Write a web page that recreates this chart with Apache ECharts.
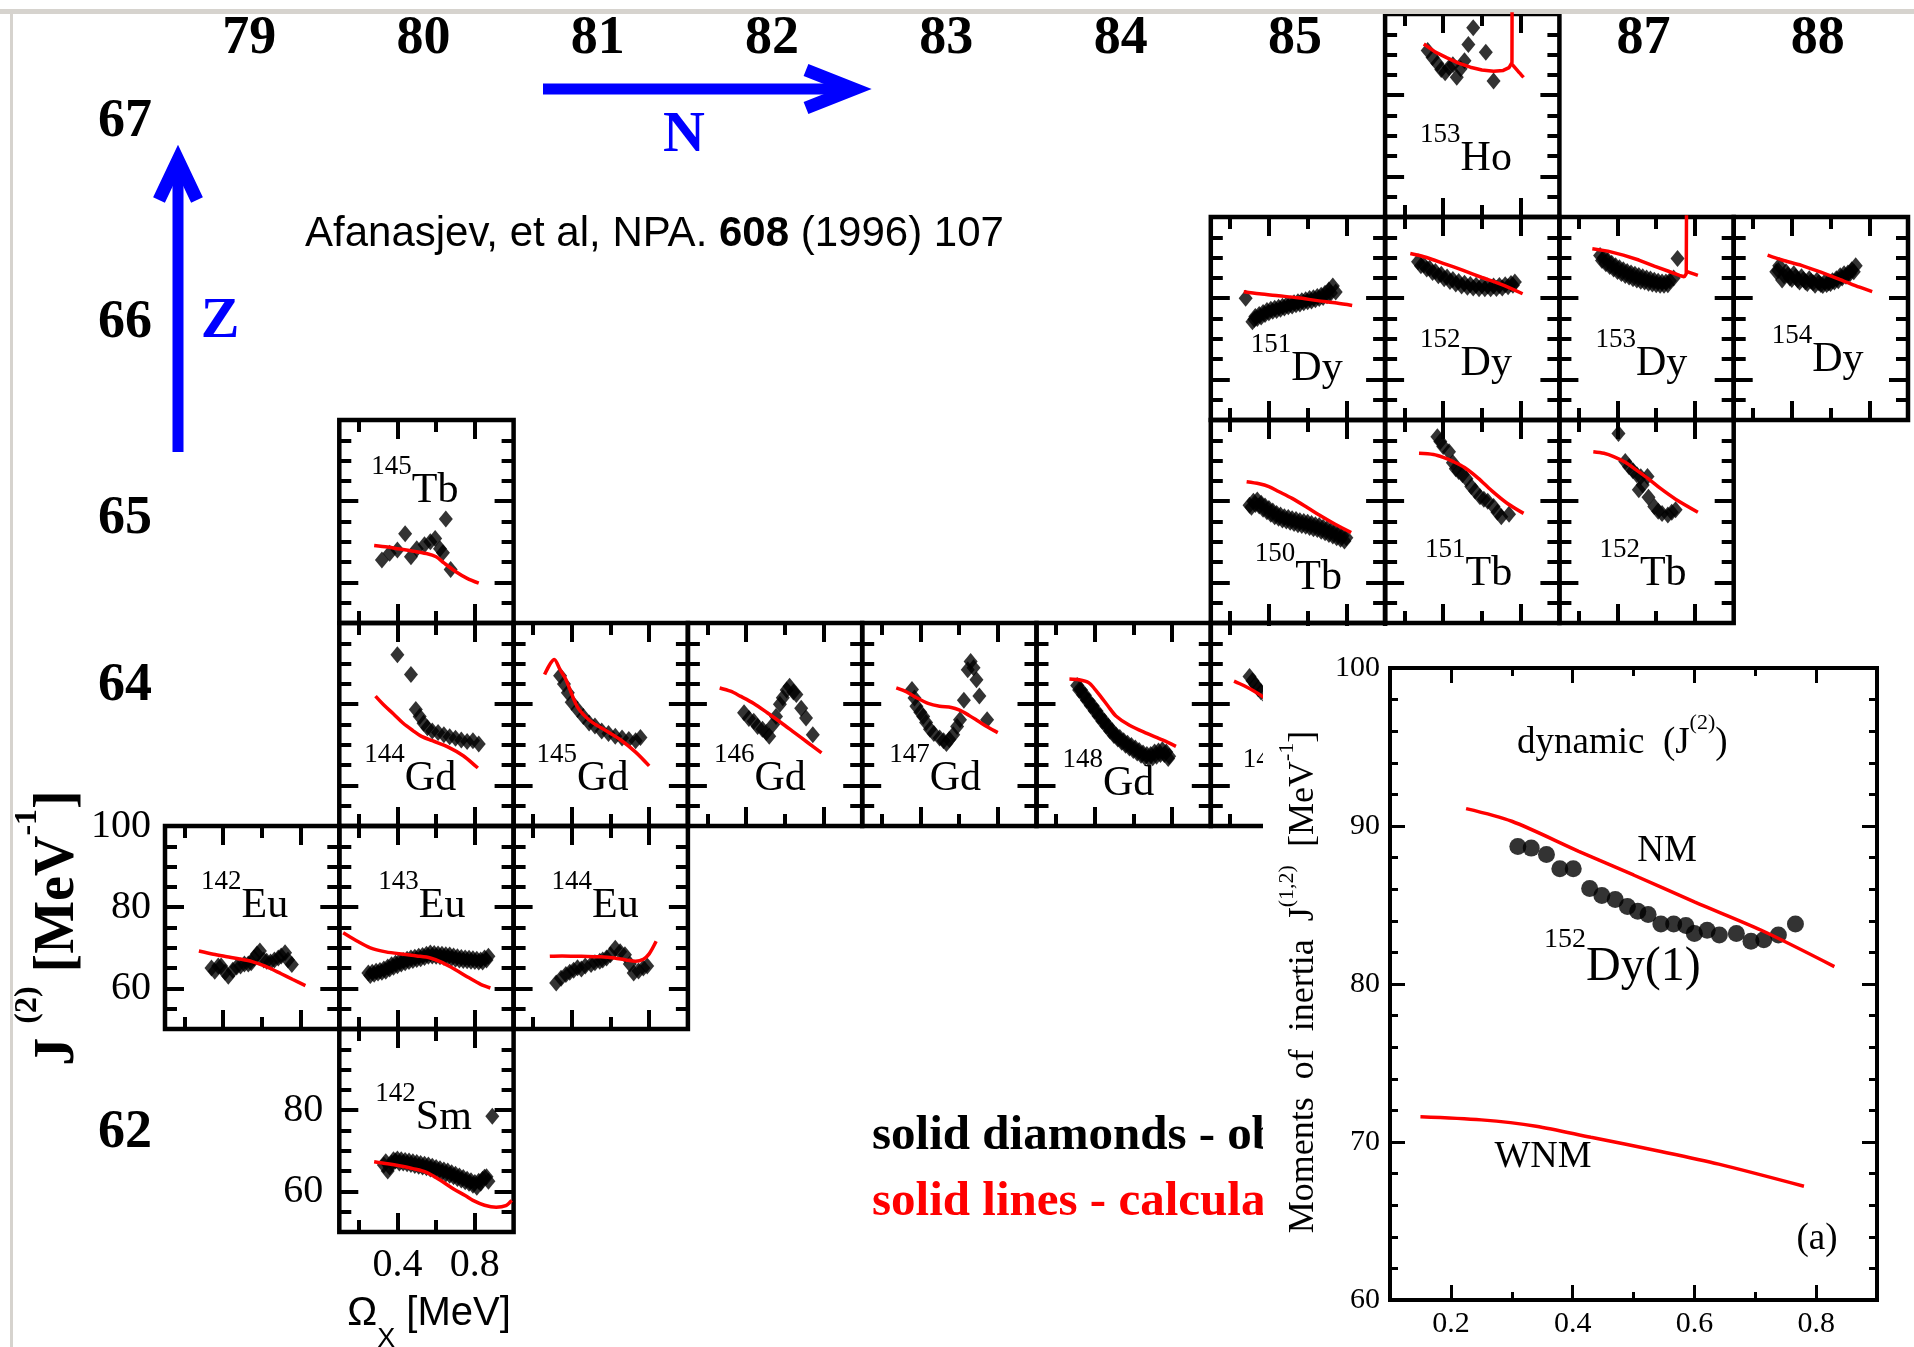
<!DOCTYPE html>
<html><head><meta charset="utf-8">
<script src="https://cdn.jsdelivr.net/npm/echarts@6/dist/echarts.min.js"></script>
<style>html,body{margin:0;padding:0;background:#fff}#c{width:1914px;height:1347px}</style>
</head><body><div id="c"></div>
<script>
// ---------- nuclei in the chart ----------
const isoMass = [153,151,152,153,154,145,150,151,152,144,145,146,147,148,149,142,143,144,142];
const isoElem = ['Ho','Dy','Dy','Dy','Dy','Tb','Tb','Tb','Tb','Gd','Gd','Gd','Gd','Gd','Gd','Eu','Eu','Eu','Sm'];
const isoZ    = [67,66,66,66,66,65,65,65,65,64,64,64,64,64,64,63,63,63,62];
const isoN    = [86,85,86,87,88,80,85,86,87,80,81,82,83,84,85,79,80,81,80];

// ---------- axis tick values / labels ----------
const nLabels = [79,80,81,82,83,84,85,87,88];
const zLabels = [67,66,65,64,62];
const xMajor = [0.4,0.8], xMinor = [0.2,0.6];
const yMajor = [60,80], yMinor = [55,65,70,75,85,90,95];
const euYLabels = [60,80,100], smYLabels = [60,80], smXLabels = [0.4,0.8];
const insetXMajor = [0.2,0.4,0.6,0.8], insetXMinor = [0.3,0.5,0.7];

// ---------- data: experiment (diamonds) and calculation (lines) ----------
const ho153Exp = [[0.32,91],[0.345,89.3],[0.37,87.8],[0.39,86.3],[0.41,85.5],[0.43,86.8],[0.45,87.5],[0.47,84.4],[0.49,86.5],[0.51,88.5],[0.53,92.5],[0.555,96.6],[0.62,90.6],[0.66,83.5]];
const ho153Calc = [[0.30,92.6],[0.36,90.6],[0.42,89.2],[0.48,87.9],[0.54,86.9],[0.60,86.2],[0.66,85.9],[0.71,86.1],[0.74,86.8],[0.755,88],[0.756,110]];
const ho153Calc2 = [[0.756,87.6],[0.785,86],[0.815,84.4]];

const dy151Exp = [[0.28,80],[0.315,74.2],[0.33,75.5],[0.35,76],[0.37,76.5],[0.39,77],[0.41,77.3],[0.43,77.5],[0.45,77.8],[0.47,78],[0.49,78.3],[0.51,78.6],[0.53,78.9],[0.55,79.1],[0.57,79.4],[0.59,79.6],[0.61,79.9],[0.63,80.1],[0.65,80.4],[0.67,80.7],[0.69,81.2],[0.71,82],[0.73,83],[0.745,81.5],
  [0.325,74.8],[0.34,75],[0.36,75.4],[0.38,76],[0.40,76.4],[0.42,76.8],[0.44,77],[0.46,77.3],[0.48,77.6],[0.50,77.9],[0.52,78.1],[0.54,78.4],[0.56,78.6],[0.58,78.9],[0.60,79.1],[0.62,79.3],[0.64,79.6],[0.66,79.9],[0.68,80.2],[0.70,80.6],[0.72,81.3]];
const dy151Calc = [[0.27,81.6],[0.35,81.1],[0.45,80.6],[0.55,80.1],[0.65,79.4],[0.75,78.8],[0.83,78.2]];

const dy152Exp = [[0.27,89],[0.30,88.2],[0.33,87.4],[0.36,86.6],[0.39,85.9],[0.42,85.2],[0.45,84.6],[0.48,84.1],[0.51,83.7],[0.54,83.4],[0.57,83.2],[0.60,83.1],[0.63,83.0],[0.66,83.0],[0.69,83.1],[0.72,83.3],[0.75,83.6],[0.77,84],
  [0.285,88],[0.315,87.2],[0.345,86.3],[0.375,85.5],[0.405,84.8],[0.435,84.1],[0.465,83.5],[0.495,83],[0.525,82.7],[0.555,82.5],[0.585,82.3],[0.615,82.3],[0.645,82.3],[0.675,82.4],[0.705,82.5],[0.735,82.8],[0.76,83.2]];
const dy152Calc = [[0.23,91],[0.30,90.2],[0.40,88.6],[0.50,86.9],[0.60,85.1],[0.70,83.4],[0.81,81.1]];

const dy153Exp = [[0.31,90.5],[0.33,90],[0.35,89.3],[0.37,88.6],[0.39,88],[0.41,87.5],[0.43,87],[0.45,86.6],[0.47,86.2],[0.49,85.9],[0.51,85.6],[0.53,85.3],[0.55,85],[0.57,84.7],[0.59,84.4],[0.61,84.2],[0.63,84],[0.65,84],[0.67,84.3],[0.69,85],[0.71,89.8],
  [0.32,89.3],[0.34,88.5],[0.36,87.8],[0.38,87.2],[0.40,86.6],[0.42,86.1],[0.44,85.6],[0.46,85.2],[0.48,84.8],[0.50,84.5],[0.52,84.2],[0.54,84],[0.56,83.7],[0.58,83.5],[0.60,83.3],[0.62,83.2],[0.64,83.2],[0.66,83.3]];
const dy153Calc = [[0.27,92.2],[0.35,91.6],[0.43,90.6],[0.51,89.4],[0.59,87.9],[0.66,86.7],[0.72,85.6],[0.745,85.3],[0.755,86],[0.757,110]];
const dy153Calc2 = [[0.757,86.6],[0.785,86.1],[0.815,85.6]];

const dy154Exp = [[0.32,86.5],[0.335,88],[0.35,84.5],[0.37,86.5],[0.39,85],[0.41,86],[0.43,84.5],[0.45,85.3],[0.47,84],[0.49,84.8],[0.51,83.8],[0.53,84.4],[0.55,83.4],[0.57,84],[0.59,83.8],[0.61,84.3],[0.63,84.8],[0.65,85.5],[0.67,86],[0.69,86.2],[0.71,87],[0.73,88],
  [0.33,86.8],[0.36,85.5],[0.38,85.8],[0.40,84.6],[0.42,85.3],[0.44,84],[0.46,84.6],[0.48,83.6],[0.50,84.2],[0.52,83.2],[0.54,83.8],[0.56,83.1],[0.58,83.4],[0.60,83.6],[0.62,84],[0.64,84.3],[0.66,85],[0.68,85.4],[0.70,86],[0.72,86.5]];
const dy154Calc = [[0.275,90.6],[0.35,89.4],[0.45,88.1],[0.55,86.4],[0.65,84.6],[0.75,82.7],[0.815,81.6]];

const tb145Exp = [[0.32,65.5],[0.36,67.2],[0.40,68],[0.44,72],[0.47,66.3],[0.50,68.3],[0.54,69.3],[0.57,70],[0.595,70.8],[0.62,68.3],[0.635,67.3],[0.65,75.6],[0.675,63.2]];
const tb145Calc = [[0.28,69.1],[0.35,68.7],[0.40,68.3],[0.47,67.8],[0.55,67.1],[0.60,66.3],[0.64,64.8],[0.70,62.7],[0.76,61],[0.82,59.8]];

const tb150Exp = [[0.30,79],[0.32,80],[0.34,80.3],[0.36,79.5],[0.38,78.8],[0.40,78.2],[0.42,77.6],[0.44,77],[0.46,76.6],[0.48,76.2],[0.50,76],[0.52,75.7],[0.54,75.5],[0.56,75.2],[0.58,75],[0.60,74.8],[0.62,74.5],[0.64,74.2],[0.66,74],[0.68,73.6],[0.70,73.2],[0.72,72.8],[0.74,72.4],[0.76,72],[0.78,71.5],[0.80,71],
  [0.31,78.5],[0.33,79.2],[0.35,78.8],[0.37,78],[0.39,77.4],[0.41,76.8],[0.43,76.2],[0.45,75.8],[0.47,75.4],[0.49,75.1],[0.51,74.8],[0.53,74.5],[0.55,74.2],[0.57,74],[0.59,73.8],[0.61,73.5],[0.63,73.2],[0.65,73],[0.67,72.6],[0.69,72.2],[0.71,71.8],[0.73,71.4],[0.75,71],[0.77,70.6],[0.79,70.2]];
const tb150Calc = [[0.285,84.8],[0.35,84.3],[0.40,83.6],[0.45,82.4],[0.52,80.7],[0.60,78.4],[0.66,76.6],[0.74,74.4],[0.825,72.3]];

const tb151Exp = [[0.37,95.9],[0.385,94.7],[0.40,93.5],[0.43,92.2],[0.45,89.5],[0.465,88],[0.48,87.3],[0.50,86.5],[0.52,85.5],[0.545,83.6],[0.565,82.5],[0.59,81.1],[0.61,80.5],[0.63,80],[0.66,78.7],[0.68,77.3],[0.70,76.2],[0.74,76.8]];
const tb151Calc = [[0.275,91.8],[0.35,91.5],[0.40,90.8],[0.45,89.8],[0.51,88.3],[0.58,85.7],[0.65,82.6],[0.73,79.5],[0.815,77]];

const tb152Exp = [[0.405,96.7],[0.44,89.8],[0.46,88.5],[0.48,87.5],[0.50,86.5],[0.52,86],[0.555,86.1],[0.51,82.8],[0.53,84],[0.56,81],[0.59,78.7],[0.61,77.5],[0.63,77],[0.66,76.6],[0.68,77.3],[0.70,77.9]];
const tb152Calc = [[0.275,92.2],[0.33,91.8],[0.38,91],[0.44,89.6],[0.50,87.6],[0.56,85.5],[0.62,83.2],[0.70,80.5],[0.815,77.3]];

const gd144Exp = [[0.40,92.2],[0.47,87.3],[0.495,78.7],[0.515,77],[0.535,75.3],[0.555,74.2],[0.58,73.4],[0.61,73],[0.64,72.5],[0.67,72],[0.70,71.6],[0.73,71.2],[0.76,70.8],[0.79,71],[0.82,70.2]];
const gd144Calc = [[0.287,82],[0.33,79.8],[0.38,77.6],[0.43,75.3],[0.48,73.5],[0.52,72.2],[0.58,71],[0.66,69.5],[0.74,67.3],[0.815,64.3]];

const gd145Exp = [[0.34,87],[0.36,85],[0.38,82.8],[0.40,80.5],[0.43,78.7],[0.46,77],[0.49,75.4],[0.52,74.6],[0.555,73.4],[0.59,72.8],[0.625,72.1],[0.66,71.7],[0.695,71.3],[0.73,71],[0.755,71.8]];
const gd145Calc = [[0.26,87.3],[0.31,91],[0.34,88.5],[0.37,86.1],[0.40,82.5],[0.43,79.3],[0.47,77],[0.51,75.4],[0.58,73.4],[0.65,71.3],[0.73,68.2],[0.80,64.8]];

const gd146Exp = [[0.39,77.9],[0.415,76.5],[0.44,75.8],[0.46,74.5],[0.485,73.8],[0.505,73],[0.52,72.1],[0.54,75],[0.555,77],[0.575,80],[0.59,81.6],[0.61,83.5],[0.625,84.4],[0.645,83],[0.66,82.4],[0.685,79],[0.71,76.6],[0.745,72.5]];
const gd146Calc = [[0.264,84],[0.32,83.2],[0.37,82],[0.44,80.2],[0.51,77.9],[0.58,75.5],[0.65,73],[0.72,70.5],[0.79,68]];

const gd147Exp = [[0.357,83.6],[0.37,81.5],[0.38,79.5],[0.40,78],[0.415,77],[0.43,75.5],[0.45,73.8],[0.47,72.8],[0.50,71.7],[0.52,71],[0.535,70.3],[0.55,71.3],[0.57,72.5],[0.59,74.5],[0.605,76.2],[0.625,81],[0.645,88.5],[0.66,90.5],[0.675,89],[0.69,86],[0.705,82],[0.745,76.2]];
const gd147Calc = [[0.276,84],[0.33,83],[0.38,81.6],[0.44,80.2],[0.50,79.5],[0.56,79.2],[0.60,78.6],[0.65,77.3],[0.70,75.8],[0.75,74.3],[0.80,73]];

const gd148Exp = [[0.31,84.6],[0.33,83.5],[0.35,82.2],[0.37,80.8],[0.39,79.6],[0.41,78.3],[0.43,77],[0.45,75.8],[0.47,74.6],[0.49,73.5],[0.51,72.5],[0.53,71.8],[0.55,71],[0.57,70.4],[0.59,69.8],[0.61,69.2],[0.63,68.6],[0.65,68],[0.67,67.6],[0.69,67.6],[0.71,68.2],[0.73,68.5],[0.75,68.8],[0.77,68.2],[0.785,67.2],
  [0.32,83.5],[0.34,82.3],[0.36,81],[0.38,79.7],[0.40,78.4],[0.42,77.1],[0.44,75.8],[0.46,74.6],[0.48,73.4],[0.50,72.3],[0.52,71.4],[0.54,70.6],[0.56,69.9],[0.58,69.2],[0.60,68.6],[0.62,68],[0.64,67.4],[0.66,66.9],[0.68,66.6],[0.70,66.8],[0.72,67.2],[0.74,67.6],[0.76,67.6],[0.78,66.6]];
const gd148Calc = [[0.27,86.2],[0.32,86],[0.37,85.3],[0.40,83.8],[0.43,82],[0.47,79.5],[0.51,77.1],[0.58,74.8],[0.67,72.8],[0.75,71.2],[0.82,69.6]];

const gd149Exp = [[0.30,86.8],[0.315,85.8],[0.33,84.8],[0.345,83.8],[0.36,83],[0.40,81],[0.45,79]];
const gd149Calc = [[0.22,85.7],[0.27,84.6],[0.32,83.3],[0.37,81.8],[0.45,79],[0.60,75],[0.80,70]];

const eu142Exp = [[0.34,65],[0.357,64.2],[0.375,65.5],[0.39,65.5],[0.41,64],[0.427,63],[0.45,64.5],[0.47,65.3],[0.49,65.5],[0.51,66],[0.53,66],[0.545,66.3],[0.56,67.5],[0.575,68.5],[0.59,69.2],[0.61,67],[0.625,66.7],[0.645,66.5],[0.665,67],[0.685,67.5],[0.70,68],[0.72,68.8],[0.735,67],[0.755,65.9]];
const eu142Calc = [[0.275,69.2],[0.35,68.4],[0.42,67.8],[0.48,67.3],[0.55,66.6],[0.62,65.4],[0.70,63.6],[0.76,62.2],[0.825,60.7]];

const eu143Exp = [[0.25,63.8],[0.27,64],[0.29,64.2],[0.31,64.4],[0.33,64.8],[0.35,65.3],[0.37,65.8],[0.39,66.2],[0.41,66.6],[0.43,66.9],[0.45,67.2],[0.47,67.5],[0.49,67.7],[0.51,67.9],[0.53,68.1],[0.55,68.4],[0.57,68.7],[0.59,68.6],[0.61,68.5],[0.63,68.4],[0.65,68.3],[0.67,68.2],[0.69,68],[0.71,67.8],[0.73,67.6],[0.75,67.5],[0.77,67.4],[0.79,67.3],[0.81,67.2],[0.83,67],[0.85,67.5],[0.87,67.9],
  [0.26,63.2],[0.28,63.5],[0.30,63.8],[0.32,64],[0.34,64.2],[0.36,64.8],[0.38,65.2],[0.40,65.6],[0.42,66],[0.44,66.3],[0.46,66.6],[0.48,66.9],[0.50,67.1],[0.52,67.3],[0.54,67.6],[0.56,67.9],[0.58,68],[0.60,67.9],[0.62,67.8],[0.64,67.7],[0.66,67.6],[0.68,67.4],[0.70,67.2],[0.72,67],[0.74,66.9],[0.76,66.8],[0.78,66.7],[0.80,66.6],[0.82,66.5],[0.84,66.5],[0.86,67]];
const eu143Calc = [[0.12,73.7],[0.18,72],[0.26,70],[0.34,69],[0.43,68.4],[0.50,68],[0.57,67.5],[0.63,66.4],[0.70,64.6],[0.77,62.6],[0.83,61],[0.88,60.1]];

const eu144Exp = [[0.32,61.3],[0.345,62.5],[0.37,63.4],[0.39,64],[0.41,64.5],[0.43,65.1],[0.45,64.8],[0.47,65.5],[0.50,65.9],[0.52,66.3],[0.545,66.7],[0.56,67],[0.58,67.5],[0.60,68.3],[0.625,69.9],[0.65,69],[0.675,68.3],[0.70,66],[0.72,63.8],[0.745,64.3],[0.77,65],[0.79,65.5]];
const eu144Calc = [[0.287,67.9],[0.35,68],[0.45,67.9],[0.55,67.8],[0.62,67.5],[0.68,67],[0.73,66.7],[0.77,67.2],[0.80,68.5],[0.836,71.6]];

const sm142Exp = [[0.33,66.5],[0.35,65],[0.37,67],[0.39,67.5],[0.41,67],[0.43,67],[0.45,66.8],[0.47,66.6],[0.49,66.4],[0.51,66.2],[0.53,66],[0.55,65.8],[0.57,65.5],[0.59,65.2],[0.61,64.9],[0.63,64.6],[0.65,64.3],[0.67,64],[0.69,63.6],[0.71,63.2],[0.73,62.8],[0.75,62.4],[0.77,62],[0.79,61.5],[0.81,61],[0.83,62],[0.85,63.5],[0.87,62.5],[0.89,78.5],
  [0.34,67.3],[0.36,66],[0.38,67.8],[0.40,68],[0.42,67.8],[0.44,67.6],[0.46,67.5],[0.48,67.3],[0.50,67.1],[0.52,66.9],[0.54,66.7],[0.56,66.5],[0.58,66.2],[0.60,65.9],[0.62,65.6],[0.64,65.3],[0.66,65],[0.68,64.6],[0.70,64.2],[0.72,63.8],[0.74,63.4],[0.76,63],[0.78,62.6],[0.80,62.2],[0.82,62.5],[0.84,63],[0.86,63.6]];
const sm142Calc = [[0.28,67.3],[0.35,66.8],[0.41,66.3],[0.48,65.6],[0.55,64.7],[0.62,62.8],[0.69,60.6],[0.75,59],[0.79,57.8],[0.85,56.6],[0.91,56.1],[0.96,56.5],[0.99,57.8]];

const expData = [ho153Exp,dy151Exp,dy152Exp,dy153Exp,dy154Exp,tb145Exp,tb150Exp,tb151Exp,tb152Exp,gd144Exp,gd145Exp,gd146Exp,gd147Exp,gd148Exp,gd149Exp,eu142Exp,eu143Exp,eu144Exp,sm142Exp];
const calcData = [[ho153Calc,ho153Calc2],[dy151Calc],[dy152Calc],[dy153Calc,dy153Calc2],[dy154Calc],[tb145Calc],[tb150Calc],[tb151Calc],[tb152Calc],[gd144Calc],[gd145Calc],[gd146Calc],[gd147Calc],[gd148Calc],[gd149Calc],[eu142Calc],[eu143Calc],[eu144Calc],[sm142Calc]];

// inset: 152Dy moments of inertia
const dy152Moi = [[0.31,88.7],[0.332,88.6],[0.357,88.2],[0.379,87.3],[0.401,87.3],[0.428,86.05],[0.448,85.6],[0.47,85.35],[0.49,84.9],[0.507,84.6],[0.524,84.4],[0.545,83.8],[0.566,83.8],[0.586,83.7],[0.60,83.2],[0.621,83.4],[0.641,83.1],[0.669,83.2],[0.693,82.7],[0.714,82.8],[0.738,83.1],[0.766,83.8]];
const nmLine = [[0.225,91.1],[0.30,90.3],[0.41,88.4],[0.50,86.9],[0.60,85.2],[0.71,83.4],[0.83,81.1]];
const wnmLine = [[0.15,71.6],[0.25,71.4],[0.34,71.0],[0.43,70.3],[0.545,69.4],[0.64,68.6],[0.78,67.2]];

// ---------- layout ----------
const colLeft0 = 165, colW = 174.3, rowTop0 = 14, rowH = 203;
const labelDx   = [35,40,35,36,38,32,44,40,40,25,23,26,27,26,32,36,39,38,36];
const labelBase = [157,164,159,159,155,83,170,166,166,168,168,168,168,173,173,92,92,92,101];
const rowLabelY = [122,323,519,686,1133];
const cellLeft = N => colLeft0 + (N - 79) * colW;
const cellTop = Z => rowTop0 + (67 - Z) * rowH;

const SERIF = 'Liberation Serif', SANS = 'Liberation Sans';
const grids = [], xAxes = [], yAxes = [], series = [], elements = [];

function tickAxis(g, pos, vals, len, range, label, z) {
  return {
    type: 'value', gridIndex: g, position: pos, min: range[0], max: range[1], z: z || 0,
    axisLine: { show: false }, splitLine: { show: false },
    axisTick: { show: true, inside: true, length: len, lineStyle: { color: '#000', width: 4 }, customValues: vals },
    axisLabel: label ? Object.assign({ show: true, fontFamily: SERIF, color: '#000' }, label) : { show: false }
  };
}

for (let i = 0; i < isoMass.length; i++) {
  const L = cellLeft(isoN[i]), T = cellTop(isoZ[i]);
  grids.push({ left: L, top: T, width: colW, height: rowH, show: true, borderColor: '#000', borderWidth: 4.5, backgroundColor: 'rgba(0,0,0,0)' });
  const isSm = isoElem[i] === 'Sm';
  const isEu142 = isoElem[i] === 'Eu' && isoMass[i] === 142;
  const xr = [0.1, 1.0], yr = [50, 100];
  xAxes.push(tickAxis(i, 'bottom', xMajor, 19, xr, isSm ? { customValues: smXLabels, fontSize: 40, margin: 13, formatter: v => (+v).toFixed(1) } : null));
  xAxes.push(tickAxis(i, 'top', xMajor, 19, xr, null));
  xAxes.push(tickAxis(i, 'bottom', xMinor, 12, xr, null));
  xAxes.push(tickAxis(i, 'top', xMinor, 12, xr, null));
  let yl = null;
  if (isEu142) yl = { customValues: euYLabels, fontSize: 40, margin: 14, formatter: v => String(v) };
  if (isSm) yl = { customValues: smYLabels, fontSize: 40, margin: 16, formatter: v => String(v) };
  yAxes.push(tickAxis(i, 'left', yMajor, 19, yr, yl));
  yAxes.push(tickAxis(i, 'right', yMajor, 19, yr, null));
  yAxes.push(tickAxis(i, 'left', yMinor, 12, yr, null));
  yAxes.push(tickAxis(i, 'right', yMinor, 12, yr, null));
  const ax = 4 * i;
  series.push({ type: 'scatter', xAxisIndex: ax, yAxisIndex: ax, data: expData[i], symbol: 'diamond', symbolSize: [14, 17], itemStyle: { color: '#000' }, z: 3, silent: true });
  calcData[i].forEach(d => {
    const spike = d.some(p => p[1] > 100);
    series.push({ type: 'line', xAxisIndex: ax, yAxisIndex: ax, data: d, symbol: 'none', showSymbol: false, smooth: spike ? false : 0.3, lineStyle: { color: '#ff0000', width: 3.5 }, z: 4, silent: true, clip: true });
  });
  // isotope label
  elements.push({
    type: 'text', x: L + labelDx[i], y: T + labelBase[i] - 50, z: 5, silent: true,
    style: {
      text: '{m|' + isoMass[i] + '}{e|' + isoElem[i] + '}', align: 'left', verticalAlign: 'top', textAlign: 'left', textVerticalAlign: 'top',
      rich: {
        m: { fontFamily: SERIF, fontSize: 27, lineHeight: 26, verticalAlign: 'top', fill: '#000', color: '#000' },
        e: { fontFamily: SERIF, fontSize: 42, lineHeight: 59, verticalAlign: 'bottom', fill: '#000', color: '#000' }
      }
    }
  });
}

// ---------- inset ----------
const gI = isoMass.length;
grids.push({ left: 1390, top: 668, width: 487, height: 632, show: true, borderColor: '#000', borderWidth: 4, backgroundColor: '#fff', z: 60 });
const ixr = [0.1, 0.9];
function insetX(pos, vals, len, label) {
  const a = tickAxis(gI, pos, vals, len, ixr, label, 60);
  a.axisTick.lineStyle.width = 3;
  return a;
}
xAxes.push(insetX('bottom', insetXMajor, 15, { customValues: insetXMajor, fontSize: 30, margin: 9, formatter: v => (+v).toFixed(1) }));
xAxes.push(insetX('top', insetXMajor, 15, null));
xAxes.push(insetX('bottom', insetXMinor, 8, null));
xAxes.push(insetX('top', insetXMinor, 8, null));
['left', 'right'].forEach(pos => {
  yAxes.push({
    type: 'value', gridIndex: gI, position: pos, min: 60, max: 100, interval: 10, z: 60,
    axisLine: { show: false }, splitLine: { show: false },
    axisTick: { show: true, inside: true, length: 15, lineStyle: { color: '#000', width: 3 } },
    minorTick: { show: true, splitNumber: 5, length: 8, lineStyle: { color: '#000', width: 3 } },
    axisLabel: pos === 'left' ? { show: true, fontFamily: SERIF, fontSize: 30, color: '#000', margin: 10 } : { show: false }
  });
});
const iax = 4 * gI, iay = 4 * gI;
series.push({ type: 'scatter', xAxisIndex: iax, yAxisIndex: iay, data: dy152Moi, symbol: 'circle', symbolSize: 17, itemStyle: { color: '#000' }, z: 62, silent: true });
series.push({ type: 'line', xAxisIndex: iax, yAxisIndex: iay, data: nmLine, symbol: 'none', smooth: 0.3, lineStyle: { color: '#ff0000', width: 3.5 }, z: 63, silent: true });
series.push({ type: 'line', xAxisIndex: iax, yAxisIndex: iay, data: wnmLine, symbol: 'none', smooth: 0.3, lineStyle: { color: '#ff0000', width: 3.5 }, z: 63, silent: true });

// ---------- annotations ----------
const GRAY = '#d6d3ce', BLUE = '#0000ff';
elements.push({ type: 'rect', shape: { x: 0, y: 9, width: 1914, height: 5 }, style: { fill: GRAY }, z: 1, silent: true });
elements.push({ type: 'rect', shape: { x: 10, y: 9, width: 3, height: 1338 }, style: { fill: GRAY }, z: 1, silent: true });

function txt(x, y, text, font, fill, align, valign, z, extra) {
  return Object.assign({ type: 'text', x: x, y: y, z: z || 5, silent: true,
    style: { text: text, font: font, fill: fill || '#000', align: align || 'center', verticalAlign: valign || 'middle', textAlign: align || 'center', textVerticalAlign: valign || 'middle' } }, extra || {});
}
nLabels.forEach(n => elements.push(txt(cellLeft(n) + colW / 2 - 3, 39, String(n), 'bold 54px "' + SERIF + '"')));
zLabels.forEach((z, k) => elements.push(txt(125, rowLabelY[k], String(z), 'bold 54px "' + SERIF + '"')));

// N arrow
elements.push({ type: 'line', shape: { x1: 543, y1: 89, x2: 848, y2: 89 }, style: { stroke: BLUE, lineWidth: 11 }, z: 5, silent: true });
elements.push({ type: 'polyline', shape: { points: [[806, 70], [854, 89], [806, 108]] }, style: { stroke: BLUE, lineWidth: 13, fill: null, lineJoin: 'miter' }, z: 5, silent: true });
elements.push(txt(684, 136, 'N', 'bold 58px "' + SERIF + '"', BLUE));
// Z arrow
elements.push({ type: 'line', shape: { x1: 178, y1: 452, x2: 178, y2: 168 }, style: { stroke: BLUE, lineWidth: 11 }, z: 5, silent: true });
elements.push({ type: 'polyline', shape: { points: [[159, 200], [178, 160], [197, 200]] }, style: { stroke: BLUE, lineWidth: 13, fill: null, lineJoin: 'miter' }, z: 5, silent: true });
elements.push(txt(220, 322, 'Z', 'bold 58px "' + SERIF + '"', BLUE));

// citation
elements.push({ type: 'text', x: 305, y: 234, z: 5, silent: true, style: {
  text: '{n|Afanasjev, et al, NPA. }{b|608}{n| (1996) 107}', align: 'left', verticalAlign: 'middle', textAlign: 'left', textVerticalAlign: 'middle',
  rich: { n: { fontFamily: SANS, fontSize: 42, fill: '#000', color: '#000' }, b: { fontFamily: SANS, fontSize: 42, fontWeight: 'bold', fill: '#000', color: '#000' } } } });

// y-axis title J(2) [MeV-1]
elements.push({ type: 'text', x: 49, y: 928, rotation: Math.PI / 2, z: 5, silent: true, style: {
  text: '{a|J }{s|(2)}{a| [MeV}{s|-1}{a|]}', align: 'center', verticalAlign: 'middle', textAlign: 'center', textVerticalAlign: 'middle',
  rich: { a: { fontFamily: SERIF, fontSize: 56, fontWeight: 'bold', lineHeight: 75, verticalAlign: 'bottom', fill: '#000', color: '#000' },
          s: { fontFamily: SERIF, fontSize: 32, fontWeight: 'bold', lineHeight: 22, verticalAlign: 'top', fill: '#000', color: '#000' } } } });

// x-axis title
elements.push({ type: 'text', x: 429, y: 1294, z: 5, silent: true, style: {
  text: '{a|\u03A9}{s|X}{a| [MeV]}', align: 'center', verticalAlign: 'top', textAlign: 'center', textVerticalAlign: 'top',
  rich: { a: { fontFamily: SANS, fontSize: 40, lineHeight: 44, verticalAlign: 'top', fill: '#000', color: '#000' },
          s: { fontFamily: SANS, fontSize: 27, lineHeight: 59, verticalAlign: 'bottom', fill: '#000', color: '#000' } } } });

// legend text (partly hidden by the inset)
elements.push(txt(872, 1136, 'solid diamonds - observed', 'bold 49px "' + SERIF + '"', '#000', 'left'));
elements.push(txt(872, 1202, 'solid lines - calculated', 'bold 49px "' + SERIF + '"', '#ff0000', 'left'));

// white box behind inset
elements.push({ type: 'rect', shape: { x: 1263, y: 626, width: 651, height: 721 }, style: { fill: '#fff' }, z: 50, silent: true });

// inset texts
elements.push({ type: 'text', x: 1517, y: 712, z: 70, silent: true, style: {
  text: '{a|dynamic  (J}{s|(2)}{a|)}', align: 'left', verticalAlign: 'top', textAlign: 'left', textVerticalAlign: 'top',
  rich: { a: { fontFamily: SERIF, fontSize: 37, lineHeight: 50, verticalAlign: 'bottom', fill: '#000', color: '#000' },
          s: { fontFamily: SERIF, fontSize: 22, lineHeight: 24, verticalAlign: 'top', fill: '#000', color: '#000' } } } });
elements.push(txt(1667, 851, 'NM', '37px "' + SERIF + '"', '#000', 'center', 'middle', 70));
elements.push(txt(1543, 1157, 'WNM', '38px "' + SERIF + '"', '#000', 'center', 'middle', 70));
elements.push(txt(1817, 1239, '(a)', '37px "' + SERIF + '"', '#000', 'center', 'middle', 70));
elements.push({ type: 'text', x: 1544, y: 926, z: 70, silent: true, style: {
  text: '{m|152}{e|Dy(1)}', align: 'left', verticalAlign: 'top', textAlign: 'left', textVerticalAlign: 'top',
  rich: { m: { fontFamily: SERIF, fontSize: 28, lineHeight: 28, verticalAlign: 'top', fill: '#000', color: '#000' },
          e: { fontFamily: SERIF, fontSize: 48, lineHeight: 65, verticalAlign: 'bottom', fill: '#000', color: '#000' } } } });
elements.push({ type: 'text', x: 1299, y: 982, rotation: Math.PI / 2, z: 70, silent: true, style: {
  text: '{a|Moments  of  inertia  J}{s|(1,2)}{a|  [MeV}{s|-1}{a|]}', align: 'center', verticalAlign: 'middle', textAlign: 'center', textVerticalAlign: 'middle',
  rich: { a: { fontFamily: SERIF, fontSize: 36, lineHeight: 46, verticalAlign: 'bottom', fill: '#000', color: '#000' },
          s: { fontFamily: SERIF, fontSize: 22, lineHeight: 22, verticalAlign: 'top', fill: '#000', color: '#000' } } } });

const chart = echarts.init(document.getElementById('c'), null, { renderer: 'canvas', width: 1914, height: 1347 });
chart.setOption({
  animation: false,
  backgroundColor: '#fff',
  textStyle: { fontFamily: SERIF },
  grid: grids, xAxis: xAxes, yAxis: yAxes, series: series,
  graphic: { elements: elements }
});
</script></body></html>
